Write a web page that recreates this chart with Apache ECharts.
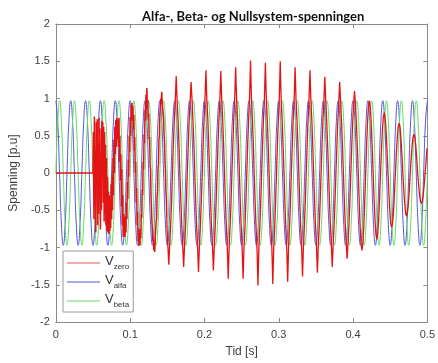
<!DOCTYPE html>
<html>
<head>
<meta charset="utf-8">
<script src="https://cdn.jsdelivr.net/npm/echarts@6/dist/echarts.min.js"></script>
<style>
  html, body { margin: 0; padding: 0; background: #fff; }
  #chart { width: 438px; height: 363px; }
</style>
</head>
<body>
<div id="chart"></div>
<script>
// Sampling of the recorded signals [s]
const stepAB = 0.0025;        // alfa / beta samples
const burstStart = 0.05;      // disturbance starts
const burstStep = 0.000625;   // dense samples during the disturbance
const steadyStart = 0.1495;   // settled oscillation
const steadyStep = 0.00125;

// Tick values
const xTicks = [0, 0.1, 0.2, 0.3, 0.4, 0.5];
const yTicks = [-2, -1.5, -1, -0.5, 0, 0.5, 1, 1.5, 2];

// V_alfa [p.u], one row = two 50 Hz periods
const vAlfa = [
  0.97, 0.69, 0, -0.69, -0.97, -0.69, 0, 0.69,  0.97, 0.69, 0, -0.69, -0.97, -0.69, 0, 0.69,
  0.97, 0.69, 0, -0.69, -0.97, -0.69, 0, 0.69,  0.97, 0.69, 0, -0.69, -0.97, -0.69, 0, 0.69,
  0.97, 0.69, 0, -0.69, -0.97, -0.69, 0, 0.69,  0.97, 0.69, 0, -0.69, -0.97, -0.69, 0, 0.69,
  0.97, 0.69, 0, -0.69, -0.97, -0.69, 0, 0.69,  0.97, 0.69, 0, -0.69, -0.97, -0.69, 0, 0.69,
  0.97, 0.69, 0, -0.69, -0.97, -0.69, 0, 0.69,  0.97, 0.69, 0, -0.69, -0.97, -0.69, 0, 0.69,
  0.97, 0.69, 0, -0.69, -0.97, -0.69, 0, 0.69,  0.97, 0.69, 0, -0.69, -0.97, -0.69, 0, 0.69,
  0.97, 0.69, 0, -0.69, -0.97, -0.69, 0, 0.69,  0.97, 0.69, 0, -0.69, -0.97, -0.69, 0, 0.69,
  0.97, 0.69, 0, -0.69, -0.97, -0.69, 0, 0.69,  0.97, 0.69, 0, -0.69, -0.97, -0.69, 0, 0.69,
  0.97, 0.69, 0, -0.69, -0.97, -0.69, 0, 0.69,  0.97, 0.69, 0, -0.69, -0.97, -0.69, 0, 0.69,
  0.97, 0.69, 0, -0.69, -0.97, -0.69, 0, 0.69,  0.97, 0.69, 0, -0.69, -0.97, -0.69, 0, 0.69,
  0.97, 0.69, 0, -0.69, -0.97, -0.69, 0, 0.69,  0.97, 0.69, 0, -0.69, -0.97, -0.69, 0, 0.69,
  0.97, 0.69, 0, -0.69, -0.97, -0.69, 0, 0.69,  0.97, 0.69, 0, -0.69, -0.97, -0.69, 0, 0.69,
  0.97, 0.69, 0, -0.69, -0.97, -0.69, 0, 0.69,
  0.97
];

// V_beta [p.u]
const vBeta = [
  0, 0.69, 0.97, 0.69, 0, -0.69, -0.97, -0.69,  0, 0.69, 0.97, 0.69, 0, -0.69, -0.97, -0.69,
  0, 0.69, 0.97, 0.69, 0, -0.69, -0.97, -0.69,  0, 0.69, 0.97, 0.69, 0, -0.69, -0.97, -0.69,
  0, 0.69, 0.97, 0.69, 0, -0.69, -0.97, -0.69,  0, 0.69, 0.97, 0.69, 0, -0.69, -0.97, -0.69,
  0, 0.69, 0.97, 0.69, 0, -0.69, -0.97, -0.69,  0, 0.69, 0.97, 0.69, 0, -0.69, -0.97, -0.69,
  0, 0.69, 0.97, 0.69, 0, -0.69, -0.97, -0.69,  0, 0.69, 0.97, 0.69, 0, -0.69, -0.97, -0.69,
  0, 0.69, 0.97, 0.69, 0, -0.69, -0.97, -0.69,  0, 0.69, 0.97, 0.69, 0, -0.69, -0.97, -0.69,
  0, 0.69, 0.97, 0.69, 0, -0.69, -0.97, -0.69,  0, 0.69, 0.97, 0.69, 0, -0.69, -0.97, -0.69,
  0, 0.69, 0.97, 0.69, 0, -0.69, -0.97, -0.69,  0, 0.69, 0.97, 0.69, 0, -0.69, -0.97, -0.69,
  0, 0.69, 0.97, 0.69, 0, -0.69, -0.97, -0.69,  0, 0.69, 0.97, 0.69, 0, -0.69, -0.97, -0.69,
  0, 0.69, 0.97, 0.69, 0, -0.69, -0.97, -0.69,  0, 0.69, 0.97, 0.69, 0, -0.69, -0.97, -0.69,
  0, 0.69, 0.97, 0.69, 0, -0.69, -0.97, -0.69,  0, 0.69, 0.97, 0.69, 0, -0.69, -0.97, -0.69,
  0, 0.69, 0.97, 0.69, 0, -0.69, -0.97, -0.69,  0, 0.69, 0.97, 0.69, 0, -0.69, -0.97, -0.69,
  0, 0.69, 0.97, 0.69, 0, -0.69, -0.97, -0.69,
  0
];

// V_zero [p.u] before the disturbance (t = 0)
const vZeroQuiet = [0];

// V_zero during the disturbance, 0.05 .. 0.15 s; one row = half a period
const vZeroBurst = [
  0.00, 0.55, -0.62, 0.76, -0.45, 0.30, -0.80, 0.68, -0.20, 0.72, -0.70, 0.40, -0.55, 0.74, -0.35, 0.60,
  -0.76, 0.25, -0.50, 0.70, 0.05, 0.68, -0.40, 0.62, -0.65, 0.55, -0.55, 0.38, -0.70, 0.20, -0.78, -0.05,
  -0.80, -0.25, -0.82, -0.30, -0.78, -0.35, -0.74, -0.15, -0.62, -0.05, -0.50, 0.20, -0.30, 0.45, 0.00, 0.62,
  0.25, 0.71, 0.35, 0.74, 0.45, 0.66, 0.72, 0.35, 0.74, 0.15, 0.50, -0.10, 0.25, -0.45, 0.05, -0.70,
  -0.30, -0.86, -0.55, -0.84, -0.60, -0.86, -0.58, -0.80, -0.40, -0.62, -0.12, -0.35, 0.18, -0.05, 0.50, 0.28,
  0.75, 0.50, 0.92, 0.70, 0.94, 0.75, 0.90, 0.58, 0.78, 0.30, 0.48, 0.00, 0.15, -0.40, -0.20, -0.70,
  -0.52, -0.92, -0.75, -0.98, -0.80, -0.97, -0.75, -0.88, -0.55, -0.60, -0.22, -0.30, 0.15, 0.05, 0.52, 0.40,
  0.85, 0.70, 1.05, 0.85, 1.14, 0.88, 0.98, 0.72, 0.80, 0.45, 0.48, 0.10, 0.05, -0.32, -0.30, -0.66,
  -0.65, -0.92, -0.88, -1.04, -0.95, -1.06, -0.88, -0.90, -0.65, -0.62, -0.32, -0.25, 0.06, 0.12, 0.45, 0.50,
  0.78, 0.80, 1.00, 0.92, 1.09, 0.95, 0.96, 0.80, 0.74, 0.52, 0.42, 0.16, 0.04, -0.24, -0.36, -0.60
];

// V_zero after the disturbance, 0.15 .. 0.5 s; one row = one period
const vZeroSteady = [
  -0.72, -0.97, -1.23, -0.95, -0.70, -0.40, 0.02, 0.40, 0.73, 0.98, 1.30, 0.95, 0.71, 0.37, -0.03, -0.38,
  -0.70, -0.98, -1.26, -0.96, -0.73, -0.37, 0.03, 0.39, 0.72, 0.97, 1.22, 0.99, 0.70, 0.40, 0.00, -0.40,
  -0.73, -0.99, -1.33, -0.97, -0.71, -0.39, -0.02, 0.38, 0.72, 1.00, 1.38, 0.97, 0.73, 0.38, 0.02, -0.39,
  -0.72, -0.96, -1.31, -0.99, -0.72, -0.38, 0.01, 0.40, 0.71, 0.99, 1.37, 0.98, 0.72, 0.39, -0.01, -0.39,
  -0.73, -1.00, -1.42, -0.98, -0.72, -0.40, 0.02, 0.39, 0.73, 1.01, 1.42, 0.99, 0.72, 0.38, 0.01, -0.40,
  -0.72, -1.01, -1.42, -0.99, -0.73, -0.39, 0.00, 0.40, 0.73, 1.02, 1.51, 1.00, 0.73, 0.39, -0.02, -0.40,
  -0.74, -1.02, -1.51, -1.00, -0.72, -0.40, 0.01, 0.39, 0.74, 1.01, 1.48, 1.00, 0.72, 0.40, 0.00, -0.41,
  -0.73, -1.01, -1.49, -1.01, -0.73, -0.39, -0.01, 0.40, 0.72, 1.02, 1.50, 0.99, 0.73, 0.39, 0.01, -0.40,
  -0.72, -1.00, -1.46, -0.99, -0.72, -0.40, 0.02, 0.38, 0.73, 1.00, 1.42, 0.98, 0.72, 0.39, 0.00, -0.39,
  -0.72, -0.99, -1.39, -0.98, -0.71, -0.39, 0.01, 0.39, 0.72, 0.99, 1.38, 0.98, 0.71, 0.38, -0.01, -0.39,
  -0.71, -0.98, -1.34, -0.97, -0.72, -0.38, 0.00, 0.38, 0.71, 0.97, 1.29, 0.96, 0.70, 0.38, 0.01, -0.38,
  -0.70, -0.96, -1.26, -0.95, -0.70, -0.37, 0.01, 0.37, 0.70, 0.95, 1.22, 0.94, 0.69, 0.37, 0.00, -0.37,
  -0.69, -0.94, -1.15, -0.93, -0.69, -0.37, 0.00, 0.36, 0.68, 0.92, 1.10, 0.91, 0.67, 0.36, 0.00, -0.36,
  -0.72, -0.95, -1.04, -0.94, -0.71, -0.38, 0.00, 0.37, 0.68, 0.89, 0.97, 0.88, 0.67, 0.35, 0.00, -0.34,
  -0.62, -0.82, -0.89, -0.81, -0.62, -0.33, 0.00, 0.31, 0.57, 0.75, 0.81, 0.74, 0.56, 0.30, 0.00, -0.28,
  -0.52, -0.68, -0.73, -0.67, -0.51, -0.27, 0.00, 0.26, 0.47, 0.62, 0.67, 0.61, 0.46, 0.25, 0.00, -0.22,
  -0.41, -0.54, -0.58, -0.53, -0.41, -0.22, 0.00, 0.20, 0.37, 0.48, 0.52, 0.48, 0.36, 0.19, 0.00, -0.16,
  -0.29, -0.38, -0.41, -0.38, -0.29, -0.16, 0.00, 0.16, 0.33
];

// Pair each sample with its time stamp
function withTime(values, start, step) {
  return values.map((v, i) => [+(start + i * step).toFixed(6), v]);
}

const zeroEarly = []
  .concat(withTime(vZeroQuiet, 0, 0))
  .concat(withTime(vZeroBurst, burstStart, burstStep));
const zeroLate = [zeroEarly[zeroEarly.length - 1]]
  .concat(withTime(vZeroSteady, steadyStart, steadyStep));

const axisColor = '#8a8a8a';
const textColor = '#404040';
const red = '#e51414';

const chart = echarts.init(document.getElementById('chart'), null, { renderer: 'canvas' });

const xBase = {
  type: 'value', min: xTicks[0], max: xTicks[xTicks.length - 1], interval: 0.1,
  axisLine: { show: true, onZero: false, lineStyle: { color: axisColor, width: 1 } },
  axisTick: { show: true, inside: true, length: 4, lineStyle: { color: axisColor } },
  splitLine: { show: false }
};
const yBase = {
  type: 'value', min: yTicks[0], max: yTicks[yTicks.length - 1], interval: 0.5,
  axisLine: { show: true, onZero: false, lineStyle: { color: axisColor, width: 1 } },
  axisTick: { show: true, inside: true, length: 4, lineStyle: { color: axisColor } },
  splitLine: { show: false }
};

chart.setOption({
  animation: false,
  backgroundColor: '#fff',
  title: {
    text: 'Alfa-, Beta- og Nullsystem-spenningen',
    left: 137, top: 5,
    textStyle: { fontFamily: 'Lato', fontWeight: 'bold', fontSize: 13, color: '#111' }
  },
  grid: { left: 53, right: 9, top: 24, bottom: 40, containLabel: false },
  xAxis: [
    Object.assign({}, xBase, {
      position: 'bottom',
      name: 'Tid [s]', nameLocation: 'middle', nameGap: 24,
      nameTextStyle: { fontFamily: 'Liberation Sans', fontSize: 12, color: textColor },
      axisLabel: { show: true, margin: 7, fontFamily: 'Liberation Sans', fontSize: 11, color: textColor }
    }),
    Object.assign({}, xBase, { position: 'top', axisLabel: { show: false } })
  ],
  yAxis: [
    Object.assign({}, yBase, {
      position: 'left',
      name: 'Spenning [p.u]', nameLocation: 'middle', nameGap: 35, nameRotate: 90,
      nameTextStyle: { fontFamily: 'Liberation Sans', fontSize: 12, color: textColor },
      axisLabel: { show: true, margin: 6, fontFamily: 'Liberation Sans', fontSize: 11, color: textColor }
    }),
    Object.assign({}, yBase, { position: 'right', axisLabel: { show: false } })
  ],
  legend: {
    orient: 'vertical', left: 63, top: 251,
    data: ['zero', 'alfa', 'beta'],
    icon: 'rect',
    itemWidth: 33, itemHeight: 1, itemGap: 3,
    padding: [4, 4, 3, 4],
    backgroundColor: '#fff', borderColor: '#9a9a9a', borderWidth: 1, borderRadius: 0,
    formatter: name => '{v|V}{s|' + name + '}',
    textStyle: {
      color: '#333',
      rich: {
        v: { fontFamily: 'Liberation Sans', fontSize: 13, lineHeight: 14, verticalAlign: 'top', color: '#333' },
        s: { fontFamily: 'Liberation Sans', fontSize: 8, lineHeight: 16, verticalAlign: 'bottom', color: '#333' }
      }
    }
  },
  series: [
    {
      name: 'alfa', type: 'line', symbol: 'none', smooth: true,
      xAxisIndex: 0, yAxisIndex: 0,
      lineStyle: { color: '#5454e2', width: 1 }, itemStyle: { color: '#5454e2' },
      data: withTime(vAlfa, 0, stepAB)
    },
    {
      name: 'beta', type: 'line', symbol: 'none', smooth: true,
      xAxisIndex: 0, yAxisIndex: 0,
      lineStyle: { color: '#66da66', width: 1 }, itemStyle: { color: '#66da66' },
      data: withTime(vBeta, 0, stepAB)
    },
    {
      name: 'zero', type: 'line', symbol: 'none', smooth: false,
      xAxisIndex: 0, yAxisIndex: 0,
      lineStyle: { color: red, width: 1.5 }, itemStyle: { color: '#ee5a5a' },
      data: zeroEarly
    },
    {
      name: 'zero', type: 'line', symbol: 'none', smooth: false,
      xAxisIndex: 0, yAxisIndex: 0,
      lineStyle: { color: red, width: 1.3 }, itemStyle: { color: '#ee5a5a' },
      data: zeroLate
    }
  ]
});
</script>
</body>
</html>
